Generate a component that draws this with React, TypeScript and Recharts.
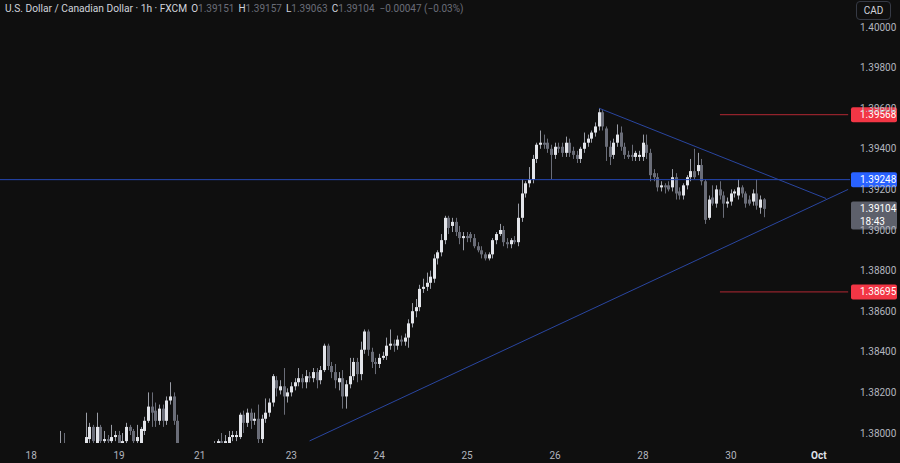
import React from "react";
import { ComposedChart, Bar, XAxis, YAxis, ReferenceLine } from "recharts";

// [open, high, low, close]
type Candle = [number, number, number, number];

const sep17: Candle[] = [
  [1.3786, 1.379, 1.3783, 1.3788], [1.3788, 1.3791, 1.3784, 1.3785], [1.3785, 1.3789, 1.3781, 1.3787],
  [1.3787, 1.3792, 1.3785, 1.379], [1.379, 1.3793, 1.3786, 1.3788], [1.3788, 1.379, 1.3782, 1.3784],
  [1.3784, 1.3787, 1.3779, 1.3781], [1.3781, 1.3786, 1.3778, 1.3785]
];
const sep18: Candle[] = [
  [1.3785, 1.3789, 1.3782, 1.3783], [1.3783, 1.3786, 1.3777, 1.3779], [1.3779, 1.3784, 1.3775, 1.3782],
  [1.3782, 1.3788, 1.378, 1.3786], [1.3786, 1.3791, 1.3783, 1.3789], [1.3789, 1.3793, 1.3785, 1.3787],
  [1.3787, 1.3792, 1.3784, 1.379], [1.379, 1.3794, 1.3786, 1.3788], [1.3788, 1.3801, 1.3786, 1.3792],
  [1.3792, 1.38, 1.3787, 1.379], [1.379, 1.3793, 1.3784, 1.3786], [1.3786, 1.379, 1.3781, 1.3783],
  [1.3783, 1.3789, 1.378, 1.3787], [1.3787, 1.3792, 1.3783, 1.3785], [1.3785, 1.3791, 1.3782, 1.3789],
  [1.3789, 1.381, 1.3786, 1.3798], [1.3797, 1.3805, 1.3795, 1.3803], [1.3803, 1.3804, 1.3793, 1.3796],
  [1.3795, 1.381, 1.379, 1.3803], [1.3803, 1.3804, 1.3794, 1.3796], [1.3796, 1.3801, 1.3794, 1.3797],
  [1.3797, 1.3799, 1.3794, 1.3796], [1.3796, 1.3804, 1.3794, 1.3798], [1.3798, 1.3801, 1.3796, 1.3799]
];
const sep19: Candle[] = [
  [1.3799, 1.3801, 1.3793, 1.3795], [1.3795, 1.38, 1.379, 1.3796], [1.3796, 1.3805, 1.3794, 1.3803],
  [1.3803, 1.3804, 1.3799, 1.3801], [1.3801, 1.3802, 1.3793, 1.3796], [1.3796, 1.3804, 1.3794, 1.3798],
  [1.3795, 1.3803, 1.3794, 1.3802], [1.3801, 1.3808, 1.3799, 1.3806], [1.3806, 1.382, 1.3805, 1.3813],
  [1.3813, 1.382, 1.3803, 1.381], [1.3811, 1.3815, 1.3803, 1.3806], [1.3806, 1.3814, 1.3804, 1.3812],
  [1.3812, 1.3814, 1.3803, 1.3806], [1.3806, 1.3818, 1.3804, 1.3816], [1.3816, 1.3825, 1.3814, 1.3818],
  [1.3818, 1.382, 1.3804, 1.3806], [1.3806, 1.3809, 1.3785, 1.379], [1.379, 1.3792, 1.3783, 1.3786],
  [1.3786, 1.3789, 1.378, 1.3782], [1.3782, 1.3786, 1.3777, 1.3779], [1.3779, 1.3784, 1.3775, 1.3781],
  [1.3781, 1.3787, 1.3778, 1.3785]
];
const sep21: Candle[] = [
  [1.3785, 1.3789, 1.3781, 1.3783], [1.3783, 1.379, 1.378, 1.3788], [1.3788, 1.3793, 1.3785, 1.3791],
  [1.3791, 1.3794, 1.3787, 1.379], [1.379, 1.3796, 1.3788, 1.3795], [1.3795, 1.3797, 1.3792, 1.3796],
  [1.3796, 1.38, 1.3793, 1.3795], [1.3795, 1.3799, 1.3793, 1.3796], [1.3795, 1.3801, 1.3794, 1.3798],
  [1.3798, 1.3801, 1.3796, 1.3799], [1.3798, 1.3801, 1.3796, 1.3799], [1.3798, 1.381, 1.3797, 1.3809],
  [1.3809, 1.3811, 1.38, 1.3805], [1.3805, 1.3812, 1.3803, 1.381], [1.381, 1.3812, 1.3802, 1.3806],
  [1.3806, 1.381, 1.3804, 1.3807], [1.3807, 1.3814, 1.3794, 1.3797], [1.3797, 1.3809, 1.3795, 1.3807],
  [1.3807, 1.3817, 1.3805, 1.381], [1.381, 1.3817, 1.3808, 1.3815], [1.3815, 1.3829, 1.3813, 1.3828],
  [1.3826, 1.3828, 1.3818, 1.3822], [1.3821, 1.3826, 1.3819, 1.3823], [1.3823, 1.3832, 1.3809, 1.3818],
  [1.3818, 1.3822, 1.3815, 1.382]
];
const sep23: Candle[] = [
  [1.382, 1.3825, 1.3818, 1.3823], [1.3823, 1.3827, 1.3821, 1.3825], [1.3825, 1.3832, 1.3823, 1.3827],
  [1.3827, 1.3829, 1.3822, 1.3825], [1.3825, 1.3831, 1.3822, 1.3828], [1.3828, 1.383, 1.3825, 1.3827],
  [1.3827, 1.3832, 1.3825, 1.383], [1.383, 1.3832, 1.3822, 1.3826], [1.3826, 1.3833, 1.3824, 1.3831],
  [1.3831, 1.3844, 1.383, 1.3843], [1.3843, 1.3844, 1.3831, 1.3833], [1.3833, 1.3835, 1.3827, 1.383],
  [1.383, 1.3834, 1.3822, 1.3826], [1.3825, 1.383, 1.3821, 1.3827], [1.3827, 1.3831, 1.3812, 1.3818],
  [1.3818, 1.3826, 1.3812, 1.3824], [1.3824, 1.3837, 1.3822, 1.3828], [1.3828, 1.3837, 1.3826, 1.3835],
  [1.3835, 1.3837, 1.3825, 1.3829], [1.3829, 1.3845, 1.3826, 1.3841], [1.3841, 1.3851, 1.3839, 1.385],
  [1.385, 1.3851, 1.3838, 1.3841], [1.384, 1.3842, 1.3832, 1.3835], [1.3835, 1.3837, 1.3829, 1.3834]
];
const sep24: Candle[] = [
  [1.3834, 1.3839, 1.3832, 1.3837], [1.3837, 1.384, 1.3836, 1.3838], [1.3838, 1.3847, 1.3836, 1.3843],
  [1.3843, 1.3851, 1.3841, 1.3844], [1.3844, 1.3846, 1.384, 1.3843], [1.3843, 1.3848, 1.3841, 1.3846],
  [1.3846, 1.3848, 1.3843, 1.3845], [1.3845, 1.3849, 1.3843, 1.3847], [1.3847, 1.3856, 1.3842, 1.3854],
  [1.3854, 1.3864, 1.3852, 1.386], [1.386, 1.3866, 1.3857, 1.3862], [1.3862, 1.3873, 1.386, 1.3871],
  [1.3871, 1.3876, 1.3869, 1.3872], [1.3872, 1.3879, 1.387, 1.3874], [1.3874, 1.388, 1.3871, 1.3877],
  [1.3876, 1.3888, 1.3874, 1.3886], [1.3886, 1.389, 1.3883, 1.3889], [1.3889, 1.3898, 1.3887, 1.3895],
  [1.3895, 1.3907, 1.3893, 1.3906], [1.3906, 1.3907, 1.3898, 1.3901], [1.3902, 1.3906, 1.3899, 1.3904],
  [1.3904, 1.3906, 1.3897, 1.3899], [1.3899, 1.3902, 1.3893, 1.3896], [1.3896, 1.3899, 1.389, 1.3897]
];
const sep25: Candle[] = [
  [1.3897, 1.3899, 1.3894, 1.3896], [1.3898, 1.3899, 1.3894, 1.3896], [1.3896, 1.3898, 1.3891, 1.3892],
  [1.3892, 1.3894, 1.3889, 1.389], [1.389, 1.3892, 1.3886, 1.3888], [1.3888, 1.3889, 1.3885, 1.3886],
  [1.3886, 1.3889, 1.3885, 1.3888], [1.3888, 1.3896, 1.3886, 1.3895], [1.3895, 1.3899, 1.3893, 1.3898],
  [1.3898, 1.3903, 1.3897, 1.39], [1.39, 1.3902, 1.3892, 1.3894], [1.3894, 1.3896, 1.3891, 1.3893],
  [1.3893, 1.3896, 1.3891, 1.3895], [1.3895, 1.3897, 1.3893, 1.3894], [1.3894, 1.3913, 1.3892, 1.3906],
  [1.3906, 1.3925, 1.3904, 1.3918], [1.3918, 1.3924, 1.3916, 1.3923], [1.3923, 1.3931, 1.3921, 1.3925],
  [1.3925, 1.3937, 1.3923, 1.3935], [1.3935, 1.3943, 1.3933, 1.3942], [1.3942, 1.3949, 1.394, 1.3943],
  [1.3943, 1.3947, 1.394, 1.3942], [1.3943, 1.3945, 1.3938, 1.394], [1.394, 1.3942, 1.3925, 1.3937]
];
const sep26: Candle[] = [
  [1.3937, 1.3943, 1.3935, 1.3941], [1.3941, 1.3943, 1.3938, 1.394], [1.3941, 1.3943, 1.3936, 1.3938],
  [1.3938, 1.3946, 1.3936, 1.3943], [1.3943, 1.3945, 1.3936, 1.3938], [1.3939, 1.3941, 1.3935, 1.3937],
  [1.3937, 1.3939, 1.3933, 1.3935], [1.3935, 1.3941, 1.3933, 1.394], [1.394, 1.3948, 1.3938, 1.3943],
  [1.3943, 1.3947, 1.3941, 1.3945], [1.3945, 1.3949, 1.3943, 1.3948], [1.3948, 1.3953, 1.3946, 1.3951],
  [1.3951, 1.396, 1.3949, 1.3958], [1.3958, 1.3959, 1.3949, 1.3951], [1.395, 1.3951, 1.3934, 1.3941],
  [1.3941, 1.3944, 1.3932, 1.3936], [1.3937, 1.3945, 1.3935, 1.3943], [1.3943, 1.3952, 1.3941, 1.3947],
  [1.3948, 1.3951, 1.3939, 1.3941], [1.3941, 1.3943, 1.3935, 1.3937], [1.3937, 1.3939, 1.3935, 1.3936],
  [1.3937, 1.3942, 1.3934, 1.3936], [1.3936, 1.3939, 1.3934, 1.3938], [1.3936, 1.3939, 1.3934, 1.3937]
];
const sep28: Candle[] = [
  [1.3936, 1.3947, 1.3934, 1.3943], [1.3942, 1.3947, 1.3935, 1.3938], [1.3938, 1.394, 1.3924, 1.3927],
  [1.3928, 1.393, 1.3924, 1.3926], [1.3926, 1.3928, 1.3919, 1.3921], [1.3921, 1.3924, 1.3919, 1.3922],
  [1.3922, 1.3923, 1.3918, 1.3921], [1.3922, 1.3924, 1.3919, 1.392], [1.3921, 1.393, 1.3919, 1.3926],
  [1.3926, 1.3928, 1.3915, 1.3918], [1.3919, 1.3921, 1.3915, 1.3917], [1.3917, 1.3923, 1.3915, 1.3922],
  [1.3922, 1.3927, 1.392, 1.3926], [1.3926, 1.3935, 1.3924, 1.3929], [1.3929, 1.394, 1.3925, 1.3926],
  [1.3929, 1.3938, 1.3927, 1.3932], [1.3932, 1.3935, 1.3922, 1.3924], [1.3924, 1.3925, 1.3903, 1.3905],
  [1.3906, 1.3917, 1.3905, 1.3915], [1.3916, 1.3922, 1.3912, 1.3913], [1.3913, 1.3922, 1.3911, 1.392],
  [1.392, 1.3924, 1.3915, 1.3917], [1.3917, 1.3919, 1.3906, 1.3913], [1.3913, 1.3916, 1.3911, 1.3914]
];
const sep30: Candle[] = [
  [1.3914, 1.392, 1.3912, 1.3918], [1.3918, 1.392, 1.3916, 1.3919], [1.3917, 1.3925, 1.3915, 1.3921],
  [1.3921, 1.3922, 1.3916, 1.3918], [1.3918, 1.3919, 1.3911, 1.3913], [1.3915, 1.3917, 1.3912, 1.3913],
  [1.3914, 1.392, 1.3912, 1.3918], [1.3918, 1.3925, 1.391, 1.3912], [1.3911, 1.3917, 1.3908, 1.3915],
  [1.39151, 1.39157, 1.39063, 1.39104]
];

const days = [
  { label: "", candles: sep17 },
  { label: "18", candles: sep18 },
  { label: "19", candles: sep19 },
  { label: "21", candles: sep21 },
  { label: "23", candles: sep23 },
  { label: "24", candles: sep24 },
  { label: "25", candles: sep25 },
  { label: "26", candles: sep26 },
  { label: "28", candles: sep28 },
  { label: "30", candles: sep30 }
];
const nextDayLabel = "Oct";
const hoursPerDay = 24;
const emptySlots = 23;

const priceTicks = [1.38, 1.382, 1.384, 1.386, 1.388, 1.39, 1.392, 1.394, 1.396, 1.398, 1.4];
const priceDomain = [1.379507, 1.40133];

const midLevel = 1.39248;
const redLevels = [1.39568, 1.38695];
const lastPrice = 1.39104;
const countdown = "18:43";

const symbolName = "U.S. Dollar / Canadian Dollar · 1h · FXCM";
const ohlcLabels = ["O", "H", "L", "C"];
const ohlcValues = ["1.39151", "1.39157", "1.39063", "1.39104"];
const changeText = "−0.00047 (−0.03%)";

// trend line anchors: [bar index, price]
const fallingLine = [[163, 1.396], [225, 1.39155]];
const risingLine = [[84, 1.37961], [231, 1.392]];
const redLineStart = 196;

const UP_BODY = "#e3e5ea";
const UP_WICK = "#9a9da6";
const DOWN_BODY = "#6a6d78";
const DOWN_WICK = "#6a6d78";
const BG = "#0f0f0f";
const TEXT = "#b2b5be";
const FONT = "Roboto, 'Noto Sans', sans-serif";

type Row = { i: number; o?: number; h?: number; l?: number; c?: number; range: [number, number] | null };

const rows: Row[] = [];
const tickIdx: number[] = [];
const tickText: Record<number, string> = {};
let lastDayStart = 0;
days.forEach((d) => {
  if (d.label) {
    tickIdx.push(rows.length);
    tickText[rows.length] = d.label;
  }
  lastDayStart = rows.length;
  d.candles.forEach(([o, h, l, c]) => rows.push({ i: rows.length, o, h, l, c, range: [l, h] }));
});
for (let k = 0; k < emptySlots; k++) rows.push({ i: rows.length, range: null });
tickIdx.push(lastDayStart + hoursPerDay);
tickText[lastDayStart + hoursPerDay] = nextDayLabel;

function CandleShape(props: any) {
  const { x, y, width, height, payload } = props;
  if (!payload || payload.o == null) return null;
  const top = Math.min(y, y + height);
  const bottom = Math.max(y, y + height);
  const span = payload.h - payload.l || 1e-9;
  const toY = (v: number) => top + ((payload.h - v) / span) * (bottom - top);
  const up = payload.c >= payload.o;
  const cx = Math.round(x + width / 2 - 0.5);
  const bTop = toY(Math.max(payload.o, payload.c));
  const bBot = toY(Math.min(payload.o, payload.c));
  return (
    <g>
      <line x1={cx + 0.5} x2={cx + 0.5} y1={top} y2={bottom} stroke={up ? UP_WICK : DOWN_WICK} strokeWidth={1} />
      <rect x={cx - 1} y={bTop} width={3} height={Math.max(1, bBot - bTop)} fill={up ? UP_BODY : DOWN_BODY} />
    </g>
  );
}

function DayTick(props: any) {
  const { x, y, payload } = props;
  const label = tickText[payload.value] ?? "";
  const bold = label === nextDayLabel;
  return (
    <text
      x={x}
      y={y}
      dy={8}
      textAnchor="middle"
      fontFamily={FONT}
      fontSize={10}
      fontWeight={bold ? 700 : 400}
      fill={bold ? "#e0e3eb" : TEXT}
    >
      {label}
    </text>
  );
}

function PriceTag({ viewBox, fill, text, sub }: any) {
  if (!viewBox) return null;
  const left = viewBox.x + viewBox.width + 1;
  const cy = viewBox.y;
  const h = sub ? 28 : 15;
  const top = cy - 7.5;
  return (
    <g>
      <rect x={left} y={top} width={46} height={h} rx={2} fill={fill} />
      <text x={left + 9} y={top + 11} fontFamily={FONT} fontSize={10} fill="#ffffff">
        {text}
      </text>
      {sub && (
        <text x={left + 9} y={top + 24} fontFamily={FONT} fontSize={10} fill="#ffffff">
          {sub}
        </text>
      )}
    </g>
  );
}

export default function App() {
  return (
    <div style={{ position: "fixed", left: 0, top: 0, width: 900, height: 463, background: BG, overflow: "hidden" }}>
      <ComposedChart
        width={900}
        height={463}
        data={rows}
        margin={{ top: 0, right: 0, bottom: 0, left: 0 }}
        barCategoryGap={0}
      >
        <XAxis
          dataKey="i"
          type="category"
          ticks={tickIdx}
          interval={0}
          height={20}
          axisLine={false}
          tickLine={false}
          tick={<DayTick />}
        />
        <YAxis
          orientation="right"
          width={50}
          domain={priceDomain}
          allowDataOverflow
          ticks={priceTicks}
          axisLine={false}
          tickLine={false}
          tickMargin={4}
          tickFormatter={(v: number) => v.toFixed(5)}
          tick={{ fill: TEXT, fontSize: 10, fontFamily: FONT }}
        />
        <Bar dataKey="range" isAnimationActive={false} shape={<CandleShape />} />
        <ReferenceLine
          y={midLevel}
          stroke="#2548b5"
          strokeWidth={1}
          label={<PriceTag fill="#2962ff" text={midLevel.toFixed(5)} />}
        />
        {redLevels.map((v) => (
          <ReferenceLine
            key={"seg" + v}
            segment={[{ x: redLineStart, y: v }, { x: rows.length - 1, y: v }]}
            stroke="#b22833"
            strokeWidth={1}
          />
        ))}
        {redLevels.map((v) => (
          <ReferenceLine
            key={"tag" + v}
            y={v}
            stroke="none"
            strokeOpacity={0}
            label={<PriceTag fill="#f23645" text={v.toFixed(5)} />}
          />
        ))}
        <ReferenceLine
          segment={fallingLine.map(([x, y]) => ({ x, y }))}
          stroke="#2a46a0"
          strokeWidth={1}
        />
        <ReferenceLine
          segment={risingLine.map(([x, y]) => ({ x, y }))}
          stroke="#2a46a0"
          strokeWidth={1}
        />
        <ReferenceLine
          y={lastPrice}
          stroke="none"
          strokeOpacity={0}
          label={<PriceTag fill="#5d606b" text={lastPrice.toFixed(5)} sub={countdown} />}
        />
      </ComposedChart>
      <div
        style={{
          position: "absolute",
          left: 5,
          top: 3,
          fontFamily: FONT,
          fontSize: 10,
          color: "#d1d4dc",
          whiteSpace: "nowrap",
          display: "flex",
          alignItems: "baseline"
        }}
      >
        <span style={{ fontSize: 10.2 }}>{symbolName}</span>
        {ohlcLabels.map((lab, k) => (
          <span key={lab} style={{ marginLeft: 4 }}>
            {lab}
            <span style={{ color: "#6a6d78" }}>{ohlcValues[k]}</span>
          </span>
        ))}
        <span style={{ color: "#6a6d78", marginLeft: 5 }}>{changeText}</span>
      </div>
      <div
        style={{
          position: "absolute",
          left: 856,
          top: 1,
          width: 35,
          height: 19,
          border: "1px solid #363a45",
          borderRadius: 4,
          boxSizing: "border-box",
          fontFamily: FONT,
          fontSize: 10,
          color: "#d1d4dc",
          display: "flex",
          alignItems: "center",
          justifyContent: "center"
        }}
      >
        CAD
      </div>
    </div>
  );
}
